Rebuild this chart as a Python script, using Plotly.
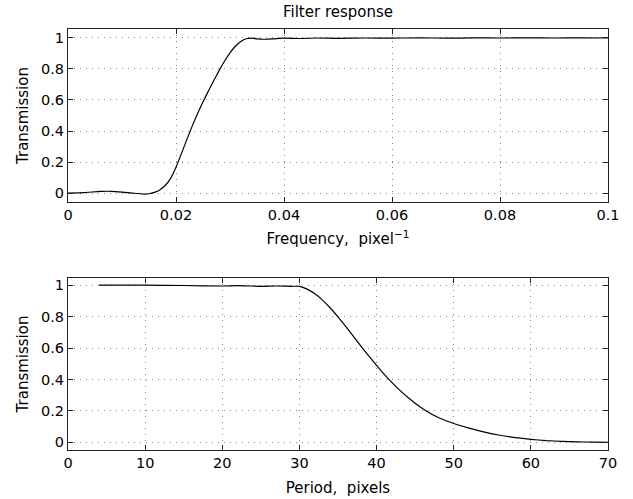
import plotly.graph_objects as go
from plotly.subplots import make_subplots

# Top panel: transmission vs frequency
freq = [0.0, 0.003, 0.006, 0.008, 0.010, 0.012, 0.014, 0.015, 0.016, 0.017, 0.018,
        0.019, 0.020, 0.021, 0.022, 0.023, 0.024, 0.025, 0.026, 0.027, 0.028,
        0.029, 0.030, 0.031, 0.032, 0.033, 0.034, 0.035, 0.036, 0.038, 0.040,
        0.043, 0.046, 0.050, 0.055, 0.060, 0.065, 0.070, 0.075, 0.080, 0.085,
        0.090, 0.095, 0.100]
trans_f = [0.002, 0.005, 0.012, 0.013, 0.008, 0.001, -0.005, -0.003, 0.006, 0.022, 0.05,
           0.096, 0.168, 0.255, 0.345, 0.432, 0.513, 0.588, 0.658, 0.725, 0.79,
           0.85, 0.903, 0.945, 0.975, 0.993, 0.997, 0.993, 0.990, 0.993, 0.997,
           0.995, 0.998, 0.996, 0.998, 0.997, 0.999, 0.997, 0.999, 0.998, 0.999,
           0.998, 0.999, 0.998]

# Bottom panel: transmission vs period
period = [4, 10, 15, 20, 22, 25, 27, 29, 30, 31, 32, 33, 34, 35, 36, 37, 38, 39, 40,
          41, 42, 43, 44, 45, 46, 47, 48, 50, 52, 54, 56, 58, 60, 62, 64, 66, 68, 70]
trans_p = [1.0, 1.0, 0.998, 0.995, 0.997, 0.993, 0.995, 0.993, 0.993, 0.975, 0.945,
           0.905, 0.855, 0.798, 0.738, 0.675, 0.61, 0.548, 0.49, 0.433, 0.38, 0.332,
           0.288, 0.249, 0.214, 0.184, 0.158, 0.12, 0.09, 0.065, 0.045, 0.03,
           0.019, 0.011, 0.006, 0.003, 0.001, 0.0]

xticks_top = [0, 0.02, 0.04, 0.06, 0.08, 0.1]
xticklabels_top = ["0", "0.02", "0.04", "0.06", "0.08", "0.1"]
xticks_bot = [0, 10, 20, 30, 40, 50, 60, 70]
yticks = [0, 0.2, 0.4, 0.6, 0.8, 1]
yticklabels = ["0", "0.2", "0.4", "0.6", "0.8", "1"]

FONT = "DejaVu Sans, Verdana, sans-serif"
TICK = dict(family=FONT, size=14.5, color="black")
LABEL = dict(family=FONT, size=15, color="black")

fig = make_subplots(rows=2, cols=1, vertical_spacing=0.18)
fig.add_trace(go.Scatter(x=freq, y=trans_f, mode="lines",
                         line=dict(color="black", width=1.2, shape="spline", smoothing=0.5),
                         showlegend=False), row=1, col=1)
fig.add_trace(go.Scatter(x=period, y=trans_p, mode="lines",
                         line=dict(color="black", width=1.2, shape="spline", smoothing=0.5),
                         showlegend=False), row=2, col=1)

axis_common = dict(showline=True, linecolor="#222", linewidth=1, mirror="ticks",
                   ticks="inside", ticklen=5, tickcolor="#222",
                   showgrid=True, gridcolor="#888", gridwidth=1, griddash="1px,5px",
                   zeroline=False, tickfont=TICK, automargin=False)

fig.update_xaxes(**axis_common)
fig.update_yaxes(**axis_common)

fig.update_xaxes(range=[0, 0.1], tickvals=xticks_top, ticktext=xticklabels_top,
                 title=dict(text="Frequency,&nbsp; pixel<sup>−1</sup>", font=LABEL, standoff=11),
                 domain=[0, 1], row=1, col=1)
fig.update_xaxes(range=[0, 70], tickvals=xticks_bot,
                 title=dict(text="Period,&nbsp; pixels", font=LABEL, standoff=12),
                 domain=[0, 1], row=2, col=1)
fig.update_yaxes(range=[-0.056, 1.056], tickvals=yticks, ticktext=yticklabels,
                 title=dict(text="Transmission", font=LABEL, standoff=8),
                 domain=[0.589, 1.0], row=1, col=1)
fig.update_yaxes(range=[-0.049, 1.046], tickvals=yticks, ticktext=yticklabels,
                 title=dict(text="Transmission", font=LABEL, standoff=8),
                 domain=[0.0, 0.4086], row=2, col=1)

fig.update_layout(
    width=633, height=499,
    margin=dict(l=68, r=25, t=29, b=49),
    paper_bgcolor="white", plot_bgcolor="white",
    title=dict(text="Filter response", x=0.534, xanchor="center", y=0.976, yanchor="middle",
               font=LABEL),
    showlegend=False,
)

fig.write_html("out.html")
